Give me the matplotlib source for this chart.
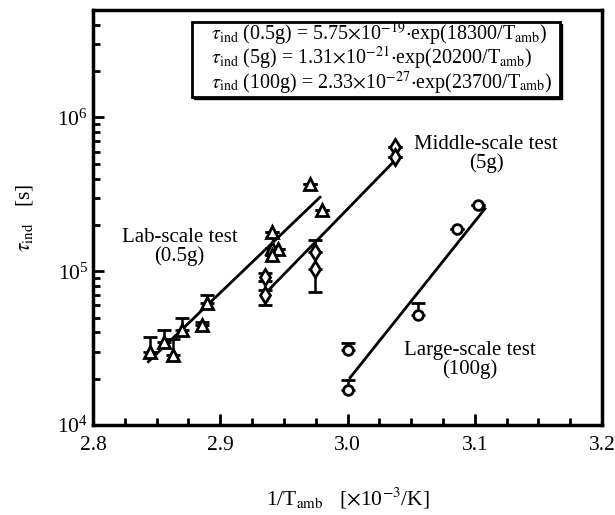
import matplotlib
matplotlib.use("Agg")
import matplotlib.pyplot as plt
from matplotlib.patches import Rectangle
from matplotlib.ticker import LogLocator, MultipleLocator
import numpy as np

plt.rcParams['font.family'] = ['Liberation Serif', 'DejaVu Serif']
plt.rcParams['mathtext.fontset'] = 'stix'

# ---- data ----
# Lab-scale test (0.5 g), triangles
lab_x = [2.8448, 2.856, 2.8631, 2.8697, 2.8854, 2.8893, 2.9404, 2.9404, 2.9456, 2.9404, 2.9705, 2.9797]
lab_y = [29900, 34700, 28500, 41400, 44600, 61700, 180000, 142000, 140000, 127000, 371000, 249000]
lab_err_up = [37400, 41400, 36000, 49300, 47000, 69800, 180000, 142000, 140000, 127000, 371000, 249000]
lab_fit_x = [2.8435, 2.9784]
lab_fit_y = [25800, 303000]

# Middle-scale test (5 g), diamonds
mid_x = [2.9352, 2.9352, 2.9745, 2.9745, 3.0373, 3.0373]
mid_y = [91800, 69900, 133000, 104000, 641000, 552000]
mid_err_lo = [86000, 60100, 133000, 73400, 641000, 552000]
mid_err_hi = [97000, 75000, 159000, 104000, 641000, 552000]
mid_fit_x = [2.937, 3.0373]
mid_fit_y = [74000, 526000]

# Large-scale test (100 g), circles
lrg_x = [3.0006, 3.0006, 3.0557, 3.0858, 3.1028]
lrg_y = [30700, 16900, 51800, 189000, 268000]
lrg_err_up = [33900, 19600, 61700, 189000, 268000]
lrg_fit_x = [3.002, 3.108]
lrg_fit_y = [20300, 255000]

x_ticks = [2.8, 2.9, 3.0, 3.1, 3.2]
x_ticklabels = ['2.8', '2.9', '3.0', '3.1', '3.2']

eq_lines = [
    r'$\tau_{\mathrm{ind}}$ (0.5g) = 5.75$\times$10$^{-19}$$\cdot$exp(18300/T$_{\mathrm{amb}}$)',
    r'$\tau_{\mathrm{ind}}$ (5g) = 1.31$\times$10$^{-21}$$\cdot$exp(20200/T$_{\mathrm{amb}}$)',
    r'$\tau_{\mathrm{ind}}$ (100g) = 2.33$\times$10$^{-27}$$\cdot$exp(23700/T$_{\mathrm{amb}}$)',
]

fig = plt.figure(figsize=(6.15, 5.15), dpi=100)
ax = fig.add_axes([0.1512, 0.1748, 0.8277, 0.8058])
ax.set_yscale('log')
ax.set_xlim(2.8, 3.2)
ax.set_ylim(1e4, 5e6)

lw = 2.0
mew = 2.0
# fitted lines
ax.plot(lab_fit_x, lab_fit_y, color='black', lw=lw, zorder=2)
ax.plot(mid_fit_x, mid_fit_y, color='black', lw=lw, zorder=2)
ax.plot(lrg_fit_x, lrg_fit_y, color='black', lw=lw, zorder=2)

# error bars
lab_y_a = np.array(lab_y)
ax.errorbar(lab_x, lab_y, yerr=[np.zeros_like(lab_y_a), np.array(lab_err_up) - lab_y_a],
            fmt='none', ecolor='black', elinewidth=1.8, capsize=5, capthick=2.0, zorder=3)
mid_y_a = np.array(mid_y)
ax.errorbar(mid_x, mid_y, yerr=[mid_y_a - np.array(mid_err_lo), np.array(mid_err_hi) - mid_y_a],
            fmt='none', ecolor='black', elinewidth=1.8, capsize=5, capthick=2.0, zorder=3)
lrg_y_a = np.array(lrg_y)
ax.errorbar(lrg_x, lrg_y, yerr=[np.zeros_like(lrg_y_a), np.array(lrg_err_up) - lrg_y_a],
            fmt='none', ecolor='black', elinewidth=1.8, capsize=5, capthick=2.0, zorder=3)

# markers
ax.plot(lab_x, lab_y, linestyle='none', marker='^', ms=9, mfc='white', mec='black', mew=mew, zorder=4)
ax.plot(mid_x, mid_y, linestyle='none', marker='d', ms=8.5, mfc='white', mec='black', mew=mew, zorder=4)
ax.plot(lrg_x, lrg_y, linestyle='none', marker='o', ms=7, mfc='white', mec='black', mew=mew, zorder=4)

# annotations
ax.text(2.868, 1.44e5, 'Lab-scale test\n(0.5g)', ha='center', va='center', fontsize=15,
        linespacing=0.95)
ax.text(3.109, 5.8e5, 'Middle-scale test\n(5g)', ha='center', va='center', fontsize=15,
        linespacing=0.95)
ax.text(3.096, 2.64e4, 'Large-scale test\n(100g)', ha='center', va='center', fontsize=15,
        linespacing=0.95)

# equation box with drop shadow
bx0, bx1, by0, by1 = 0.194, 0.917, 0.791, 0.972
shadow = Rectangle((bx0 + 0.005, by0 - 0.006), bx1 - bx0, by1 - by0, transform=ax.transAxes,
                   facecolor='black', edgecolor='black', zorder=5)
box = Rectangle((bx0, by0), bx1 - bx0, by1 - by0, transform=ax.transAxes,
                facecolor='white', edgecolor='black', lw=2.0, zorder=6)
ax.add_patch(shadow)
ax.add_patch(box)
ax.text(0.231, 0.884, '\n'.join(eq_lines), transform=ax.transAxes, ha='left', va='center',
        multialignment='left', fontsize=14.4, linespacing=0.9, zorder=7)

# ticks
ax.set_xticks(x_ticks)
ax.set_xticklabels(x_ticklabels)
ax.xaxis.set_minor_locator(MultipleLocator(0.025))
ax.yaxis.set_major_locator(LogLocator(base=10, numticks=10))
ax.yaxis.set_minor_locator(LogLocator(base=10, subs=np.arange(2, 10), numticks=20))
ax.tick_params(which='both', direction='in', top=False, right=False, labelsize=15.5, width=2.0)
ax.tick_params(which='major', length=8)
ax.tick_params(which='minor', length=5)
ax.tick_params(axis='x', pad=8)
for sp in ax.spines.values():
    sp.set_linewidth(2.5)

ax.set_xlabel(r'1/T$_{\mathrm{amb}}$   [$\times$10$^{-3}$/K]', fontsize=15.5, labelpad=22)
ax.set_ylabel(r'$\tau_{\mathrm{ind}}$   [s]', fontsize=15.5, labelpad=16)

fig.savefig('out.png', dpi=100)
